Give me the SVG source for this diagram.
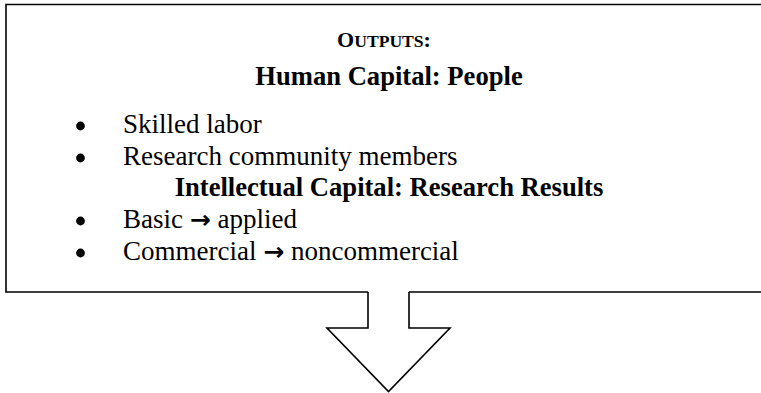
<svg xmlns="http://www.w3.org/2000/svg" width="761" height="393" viewBox="0 0 761 393">
  <style>
    .frame { fill: none; stroke: #000; stroke-width: 1.6; }
    .txt { font-family: "Liberation Serif", "Times New Roman", serif; fill: #000; }
    .head { font-size: 26.6px; font-weight: bold; text-anchor: middle; }
    .item { font-size: 27px; }
    .arr { font-family: "DejaVu Sans", sans-serif; font-weight: bold; font-size: 25px; }
    .dot { fill: #000; }
  </style>
  <rect width="761" height="393" fill="#fff"/>

  <!-- Outputs box (open at the bottom where the arrow leaves) -->
  <g id="outputs">
    <path class="frame" d="M368 292 H6 V4.5 H775 V292 H409"/>
    <text class="txt" x="384" y="47" text-anchor="middle" font-weight="bold" font-size="22px">O<tspan font-size="17.6px">UTPUTS</tspan>:</text>
    <text class="txt head" x="389" y="85">Human Capital: People</text>
    <circle class="dot" cx="80.5" cy="126" r="4.4"/>
    <text class="txt item" x="123" y="133">Skilled labor</text>
    <circle class="dot" cx="80.5" cy="158" r="4.4"/>
    <text class="txt item" x="123" y="165">Research community members</text>
    <text class="txt head" x="389" y="196">Intellectual Capital: Research Results</text>
    <circle class="dot" cx="80.5" cy="221" r="4.4"/>
    <text class="txt item" x="123" y="228">Basic <tspan class="arr">→</tspan> applied</text>
    <circle class="dot" cx="80.5" cy="253" r="4.4"/>
    <text class="txt item" x="123" y="260">Commercial <tspan class="arr">→</tspan> noncommercial</text>
  </g>

  <!-- Block arrow pointing down -->
  <g id="connectors">
    <path class="frame" d="M368 292 V328 H327 L388.5 391.5 L450 328 H409 V292" stroke-linejoin="miter"/>
  </g>
</svg>
